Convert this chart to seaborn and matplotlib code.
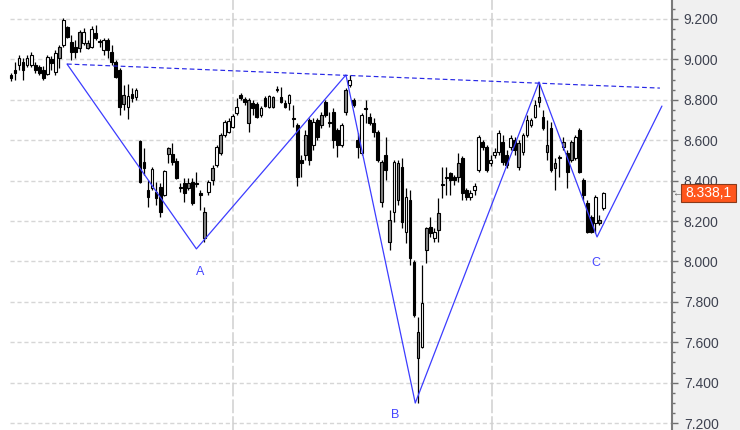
import matplotlib
matplotlib.use('Agg')
import matplotlib.pyplot as plt
import matplotlib.transforms as mtransforms
from matplotlib.patches import Rectangle
from matplotlib.ticker import MultipleLocator, FuncFormatter
import seaborn as sns
import numpy as np
import pandas as pd

# OHLC (una vela por sesion)
opens = [
    8923, 8948, 8972, 8987, 8972, 8972, 8972, 8962, 8948, 8928,
    9002, 8938, 9061, 9071, 9160, 9086, 9061, 9136, 9081, 9081,
    9061, 9131, 9091, 9047, 9096, 9037, 8987, 8948, 8824, 8764,
    8829, 8814, 8596, 8492, 8354, 8363, 8344, 8368, 8329, 8561,
    8532, 8497, 8368, 8388, 8388, 8393, 8388, 8339, 8245, 8344,
    8462, 8477, 8626, 8626, 8641, 8665, 8735, 8824, 8804, 8799,
    8784, 8779, 8725, 8809, 8764, 8814, 8853, 8814, 8784, 8784,
    8710, 8675, 8502, 8626, 8700, 8576, 8700, 8725, 8789, 8690,
    8740, 8651, 8576, 8849, 8873, 8799, 8601, 8537, 8759, 8715,
    8685, 8641, 8492, 8527, 8205, 8245, 8487, 8467, 8146, 8304,
    7997, 7651, 7576, 8165, 8170, 8116, 8240, 8383, 8418, 8438,
    8418, 8487, 8512, 8354, 8319, 8354, 8453, 8591, 8566, 8487,
    8527, 8542, 8591, 8527, 8566, 8601, 8586, 8542, 8626, 8675,
    8715, 8814, 8715, 8576, 8660, 8487, 8517, 8591, 8537, 8591,
    8512, 8651, 8403, 8289, 8220, 8190, 8205, 8264,
]
highs = [
    8933, 8987, 9022, 9007, 9022, 9037, 8987, 8972, 8967, 9022,
    9017, 9047, 9071, 9205, 9165, 9121, 9096, 9145, 9155, 9096,
    9165, 9170, 9101, 9106, 9106, 9071, 8997, 8957, 8873, 8878,
    8858, 8858, 8601, 8561, 8403, 8467, 8393, 8388, 8453, 8566,
    8586, 8512, 8388, 8413, 8413, 8413, 8443, 8354, 8269, 8403,
    8477, 8576, 8636, 8700, 8710, 8730, 8809, 8834, 8814, 8809,
    8799, 8789, 8769, 8819, 8824, 8819, 8868, 8863, 8799, 8829,
    8774, 8685, 8527, 8651, 8710, 8710, 8710, 8740, 8799, 8740,
    8759, 8660, 8685, 8858, 8923, 8809, 8636, 8735, 8799, 8735,
    8710, 8651, 8502, 8616, 8254, 8502, 8502, 8512, 8363, 8354,
    8007, 7725, 7982, 8170, 8220, 8165, 8314, 8467, 8467, 8443,
    8428, 8537, 8522, 8363, 8354, 8388, 8626, 8601, 8576, 8527,
    8561, 8651, 8626, 8552, 8626, 8616, 8601, 8636, 8725, 8710,
    8799, 8888, 8750, 8700, 8690, 8512, 8527, 8616, 8552, 8601,
    8626, 8660, 8413, 8304, 8230, 8329, 8230, 8344,
]
lows = [
    8893, 8898, 8948, 8898, 8962, 8962, 8933, 8923, 8898, 8923,
    8948, 8923, 8957, 9061, 9106, 8997, 9007, 9037, 9071, 9051,
    9056, 9096, 9061, 9022, 9007, 8972, 8908, 8725, 8750, 8705,
    8789, 8799, 8388, 8428, 8269, 8354, 8279, 8220, 8324, 8487,
    8477, 8408, 8344, 8294, 8354, 8279, 8368, 8254, 8096, 8329,
    8378, 8467, 8527, 8616, 8636, 8660, 8725, 8799, 8774, 8641,
    8725, 8710, 8715, 8764, 8759, 8759, 8839, 8784, 8759, 8750,
    8665, 8373, 8418, 8502, 8477, 8552, 8601, 8660, 8715, 8665,
    8561, 8517, 8566, 8725, 8863, 8764, 8512, 8527, 8685, 8675,
    8616, 8492, 8269, 8403, 8056, 8195, 8279, 8165, 8091, 7982,
    7725, 7299, 7571, 7992, 8121, 8096, 8096, 8314, 8329, 8329,
    8378, 8393, 8304, 8304, 8304, 8329, 8443, 8552, 8443, 8472,
    8512, 8527, 8477, 8462, 8552, 8527, 8453, 8527, 8616, 8665,
    8710, 8764, 8651, 8502, 8443, 8354, 8418, 8552, 8363, 8492,
    8502, 8438, 8304, 8141, 8141, 8141, 8180, 8254,
]
closes = [
    8908, 8933, 9007, 8948, 9007, 9022, 8948, 8933, 8908, 9012,
    8982, 9032, 9007, 9195, 9111, 9037, 9037, 9056, 9136, 9056,
    9150, 9106, 9086, 9096, 9047, 8987, 8913, 8764, 8779, 8819,
    8809, 8849, 8393, 8462, 8319, 8457, 8314, 8245, 8448, 8532,
    8492, 8413, 8363, 8339, 8363, 8289, 8383, 8329, 8116, 8393,
    8403, 8566, 8537, 8690, 8695, 8720, 8764, 8809, 8789, 8685,
    8759, 8715, 8759, 8769, 8819, 8764, 8849, 8789, 8764, 8824,
    8705, 8418, 8487, 8527, 8502, 8690, 8616, 8675, 8725, 8685,
    8601, 8576, 8675, 8740, 8898, 8774, 8566, 8725, 8755, 8685,
    8641, 8502, 8294, 8453, 8096, 8492, 8304, 8195, 8319, 8017,
    7735, 7522, 7794, 8056, 8141, 8146, 8155, 8378, 8413, 8403,
    8403, 8418, 8339, 8319, 8339, 8373, 8616, 8566, 8453, 8502,
    8542, 8636, 8492, 8477, 8611, 8552, 8467, 8626, 8700, 8700,
    8774, 8789, 8660, 8542, 8453, 8462, 8512, 8566, 8443, 8502,
    8616, 8443, 8329, 8146, 8146, 8319, 8190, 8338,
]
# w = hueca (sube), b = negra (baja), g = gris
tipos = ("bbwbwwbbbw" "bwgwbbbgwg" "wbbwbbbbgw" "bwbbbwbbwg" "bbbbgbbbgw"
         "gwgwwwwbbg" "bbwbwgbbbw" "bbbgbwbgbb" "bbwgwbbwbb" "bbgbgwgbwb"
         "bgwgbwgbbb" "bgbbwwwbbw" "wwbbwbgwww" "wgbgbgbgbg" "wbbbbwgw")

# patron A-B-C y linea de cuello
zz_x = [13.9, 46.0, 83.1, 100.3, 131.0, 145.4, 161.5]
zz_y = [8977, 8062, 8923, 7299, 8888, 8121, 8769]
cuello_x = [13.9, 161.0]
cuello_y = [8977, 8858]
etiquetas = ['A', 'B', 'C']
etq_x = [46.9, 95.3, 145.0]
etq_y = [7948, 7240, 7992]
separadores = [55.1, 119.4]
ultimo = 8338.1
y_ticks = [7200, 7400, 7600, 7800, 8000, 8200, 8400, 8600, 8800, 9000, 9200]

n = len(closes)
assert len(opens) == len(highs) == len(lows) == n == len(tipos)

df = pd.DataFrame({'i': np.arange(n), 'open': opens, 'high': highs,
                   'low': lows, 'close': closes, 'tipo': list(tipos)})
colores = {'w': 'white', 'b': 'black', 'g': '#858585'}

sns.set_style('white')
plt.rcParams['font.family'] = ['Liberation Sans', 'DejaVu Sans']

fig = plt.figure(figsize=(7.4, 4.3), dpi=100, facecolor='#F0F0F0')
ax = fig.add_axes([0, 0, 672 / 740, 1])
ax.set_facecolor('white')
ax.set_xlim(-2.73, 164.0)
ax.set_ylim(7165.5, 9294)

# rejilla
ax.hlines(y_ticks, -0.3, 164.0, colors='#D6D6D6', linestyles=[(0, (3, 2))], lw=1, zorder=0)
for s in separadores:
    ax.axvline(s, color='#D0D0D0', lw=1.1, linestyle=(0, (9, 2)), zorder=0)

# velas
ax.vlines(df['i'], df['low'], df['high'], colors='black', lw=0.9, zorder=2)
cuerpo_base = df[['open', 'close']].min(axis=1)
cuerpo_alto = (df['close'] - df['open']).abs().clip(lower=4)
ax.bar(df['i'], cuerpo_alto, bottom=cuerpo_base, width=0.68,
       color=[colores[t] for t in df['tipo']], edgecolor='black', lw=0.8, zorder=3)

# patron
sns.lineplot(x=zz_x, y=zz_y, sort=False, color='#3C3CFF', lw=0.9, ax=ax, zorder=4)
ax.plot(cuello_x, cuello_y, color='#2626E6', lw=0.85, linestyle=(0, (4, 2.5)), zorder=4)
for t, x, y in zip(etiquetas, etq_x, etq_y):
    ax.text(x, y, t, color='#4646FF', fontsize=9, ha='center', va='center')

# eje derecho
for lado in ['left', 'top', 'bottom']:
    ax.spines[lado].set_visible(False)
ax.spines['right'].set_color('#7A7A7A')
ax.spines['right'].set_linewidth(1.5)
ax.set_xticks([])
ax.yaxis.tick_right()
ax.set_yticks(y_ticks)
ax.yaxis.set_minor_locator(MultipleLocator(50))
ax.yaxis.set_major_formatter(FuncFormatter(lambda v, p: f'{v:,.0f}'.replace(',', '.')))
ax.tick_params(axis='y', which='major', length=4.5, width=1, color='#707070',
               labelcolor='#3E4250', labelsize=10, pad=4)
ax.tick_params(axis='y', which='minor', length=2.5, width=1, color='#707070')
ax.set_xlabel('')
ax.set_ylabel('')

# etiqueta del ultimo precio (tapa parte de 8.400, como en el original)
tr = mtransforms.blended_transform_factory(ax.transAxes, ax.transData)
ax.add_patch(Rectangle((681 / 672, ultimo - 44), 55 / 672, 88, transform=tr,
                       facecolor='#FF561C', edgecolor='#8A3A1A', lw=0.8, clip_on=False, zorder=5))
ax.text(708.5 / 672, ultimo, f'{ultimo:,.1f}'.replace(',', 'X').replace('.', ',').replace('X', '.'),
        transform=tr, color='white', fontsize=10, ha='center', va='center', clip_on=False, zorder=6)
ax.text(676.5 / 672, ultimo, '←', transform=tr, color='#606060', fontsize=7,
        ha='center', va='center', clip_on=False, zorder=6)

fig.savefig('out.png', dpi=100, facecolor=fig.get_facecolor())
